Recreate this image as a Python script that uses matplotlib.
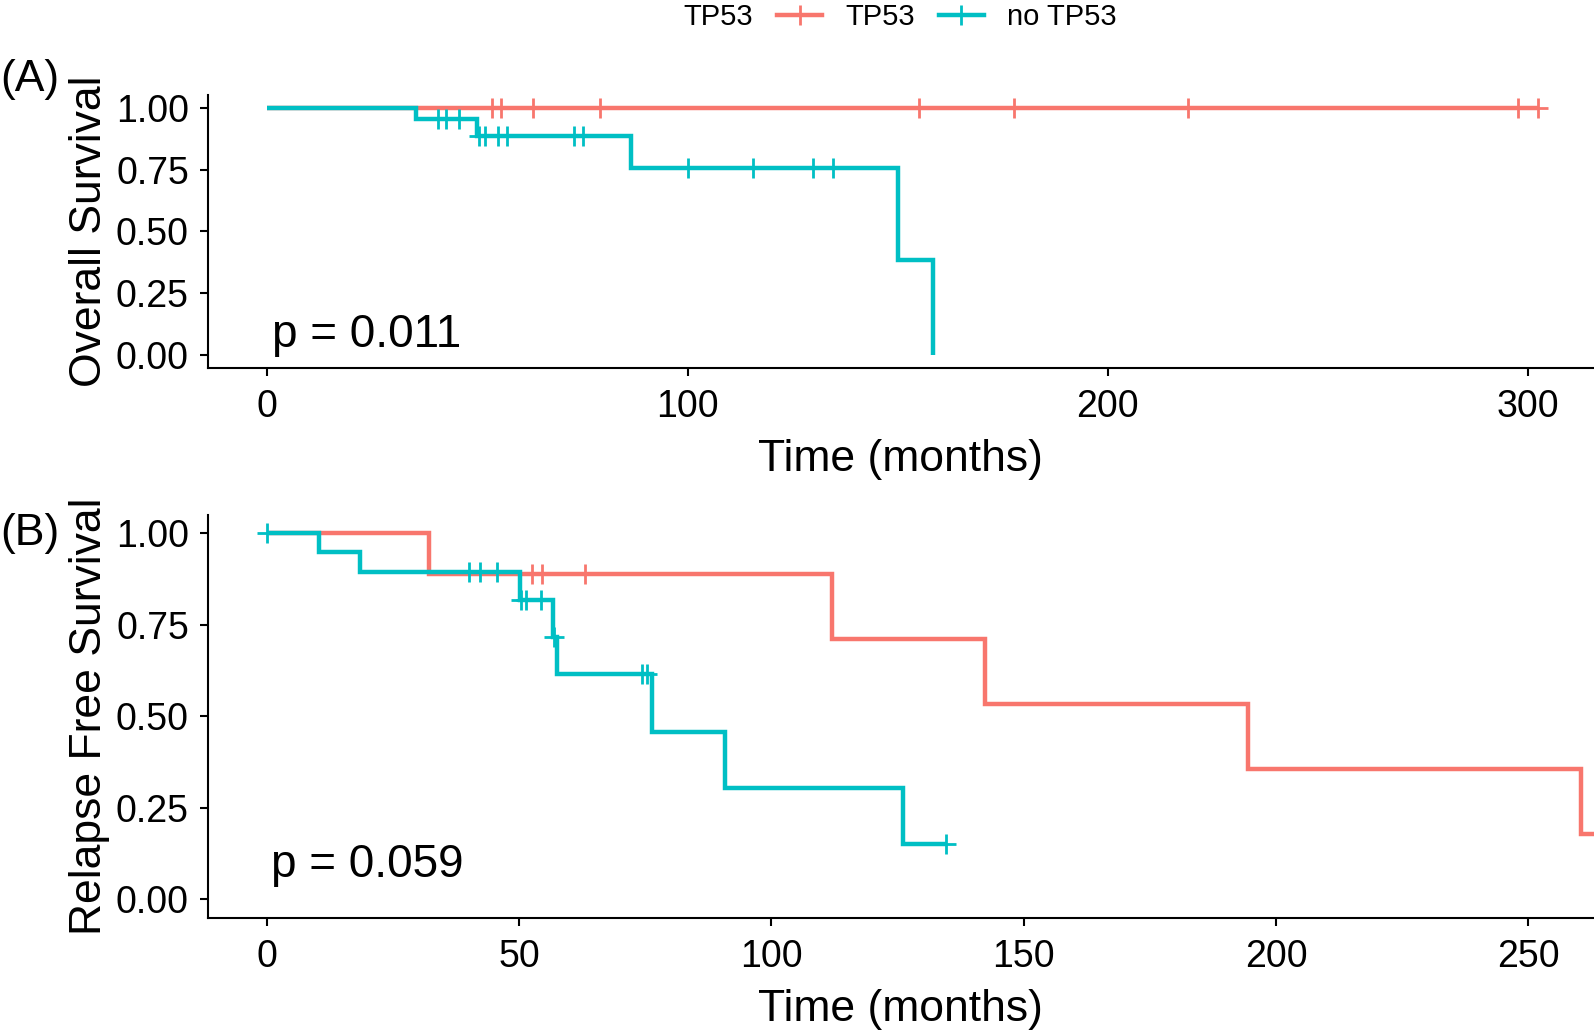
#!/usr/bin/env python3
"""Kaplan-Meier style curves for TP53 vs no TP53 (overall and relapse free survival)."""

from __future__ import annotations

import matplotlib

matplotlib.use("Agg")
import matplotlib.pyplot as plt
import numpy as np
from matplotlib.lines import Line2D

RED = "#F8766D"
CYAN = "#00BFC4"

GROUP_LABELS = ["TP53", "no TP53"]
LEGEND_TITLE = "TP53"

# (A) overall survival, step curves
OS_TP53_TIME = [0.0, 302.4]
OS_TP53_SURV = [1.0, 1.0]
OS_TP53_CENSOR = [53.5, 55.6, 63.3, 79.1, 155.0, 177.7, 219.1, 297.5, 302.4]

OS_NO_TIME = [0.0, 35.4, 49.9, 86.5, 150.0, 158.5]
OS_NO_SURV = [1.0, 0.954, 0.885, 0.757, 0.383, 0.0]
OS_NO_CENSOR = [40.5, 42.4, 45.7, 50.3, 51.7, 54.9, 57.0, 72.9, 75.0,
                100.2, 115.6, 129.9, 134.7]

# (B) relapse free survival
RFS_TP53_TIME = [0.0, 32.1, 112.0, 142.4, 194.5, 260.4, 266.0]
RFS_TP53_SURV = [1.0, 0.889, 0.711, 0.533, 0.356, 0.178, 0.178]
RFS_TP53_CENSOR = [52.6, 54.6, 63.1]

RFS_NO_TIME = [0.0, 10.4, 18.4, 50.1, 56.8, 57.6, 76.3, 90.9, 126.0, 134.6]
RFS_NO_SURV = [1.0, 0.948, 0.894, 0.818, 0.718, 0.615, 0.458, 0.305, 0.151, 0.151]
RFS_NO_CENSOR = [0.0, 40.0, 42.2, 45.6, 50.3, 51.4, 54.3, 56.9, 74.4, 75.4, 134.6]

P_VALUES = ["p = 0.011", "p = 0.059"]
Y_LABELS = ["Overall Survival", "Relapse Free Survival"]
PANEL_TAGS = ["(A)", "(B)"]
X_TICKS = [[0, 100, 200, 300], [0, 50, 100, 150, 200, 250]]
Y_TICKS = [0.0, 0.25, 0.5, 0.75, 1.0]

FIG_W, FIG_H = 1594, 1032
LINE_W = 3.2
MARK_KW = dict(marker="+", markersize=15, markeredgewidth=2.0)


def _surv_at(times, surv, t):
    idx = np.searchsorted(np.asarray(times), np.asarray(t), side="right") - 1
    return np.asarray(surv)[idx]


def _draw_curve(ax, times, surv, censor, color):
    ax.step(times, surv, where="post", color=color, linewidth=LINE_W,
            solid_capstyle="butt", solid_joinstyle="miter")
    ax.plot(censor, _surv_at(times, surv, censor), linestyle="none", color=color,
            **MARK_KW)


def _style_axis(ax, xticks, xlim, ylabel):
    ax.set_xlim(*xlim)
    ax.set_ylim(-0.05, 1.05)
    ax.set_xticks(xticks)
    ax.set_yticks(Y_TICKS)
    ax.set_yticklabels([f"{v:.2f}" for v in Y_TICKS])
    for side in ("top", "right"):
        ax.spines[side].set_visible(False)
    for side in ("left", "bottom"):
        ax.spines[side].set_linewidth(1.5)
    ax.tick_params(axis="both", labelsize=27, length=5.5, width=1.5, colors="black")
    ax.tick_params(axis="x", pad=10)
    ax.tick_params(axis="y", pad=8)
    ax.set_xlabel("Time (months)", fontsize=32, labelpad=10)
    ax.set_ylabel(ylabel, fontsize=32, labelpad=4)


def main() -> int:
    plt.rcParams["font.family"] = ["Liberation Sans", "DejaVu Sans"]
    fig = plt.figure(figsize=(FIG_W / 100, FIG_H / 100), dpi=100)

    left = 207.7 / FIG_W
    ax_a = fig.add_axes([left, 1 - 367.5 / FIG_H, 1 - left, (367.5 - 95.3) / FIG_H])
    ax_b = fig.add_axes([left, 1 - 917.7 / FIG_H, 1 - left, (917.7 - 515.0) / FIG_H])

    _draw_curve(ax_a, OS_TP53_TIME, OS_TP53_SURV, OS_TP53_CENSOR, RED)
    _draw_curve(ax_a, OS_NO_TIME, OS_NO_SURV, OS_NO_CENSOR, CYAN)
    _style_axis(ax_a, X_TICKS[0], (-14.2, 315.7), Y_LABELS[0])
    ax_a.text(1.0, 0.08, P_VALUES[0], fontsize=33, va="center", ha="left")

    _draw_curve(ax_b, RFS_TP53_TIME, RFS_TP53_SURV, RFS_TP53_CENSOR, RED)
    _draw_curve(ax_b, RFS_NO_TIME, RFS_NO_SURV, RFS_NO_CENSOR, CYAN)
    _style_axis(ax_b, X_TICKS[1], (-11.7, 263.0), Y_LABELS[1])
    ax_b.text(0.8, 0.093, P_VALUES[1], fontsize=33, va="center", ha="left")

    fig.text(0.0, 1 - 80 / FIG_H, PANEL_TAGS[0], fontsize=32, va="center", ha="left")
    fig.text(0.0, 1 - 533.5 / FIG_H, PANEL_TAGS[1], fontsize=32, va="center", ha="left")

    legend_y = 1 - 17 / FIG_H
    fig.text(683 / FIG_W, legend_y, LEGEND_TITLE, fontsize=21, va="center", ha="left")
    handles = [
        Line2D([], [], color=RED, linewidth=LINE_W, **MARK_KW),
        Line2D([], [], color=CYAN, linewidth=LINE_W, **MARK_KW),
    ]
    fig.legend(handles, GROUP_LABELS, loc="center left",
               bbox_to_anchor=(777 / FIG_W, legend_y), ncol=2, frameon=False,
               fontsize=21, handlelength=1.55, handletextpad=0.8, columnspacing=0.8,
               borderpad=0, borderaxespad=0, numpoints=1)

    fig.savefig("out.png", dpi=100)
    plt.close(fig)
    return 0


if __name__ == "__main__":
    raise SystemExit(main())
